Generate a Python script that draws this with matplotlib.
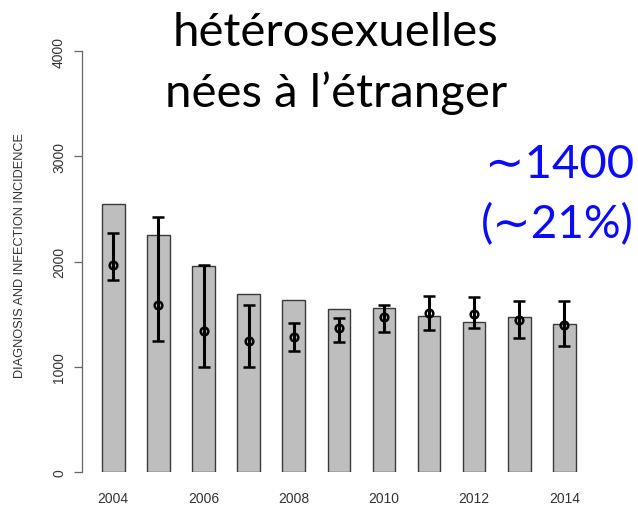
import numpy as np
import matplotlib
matplotlib.use('Agg')
import matplotlib.pyplot as plt

# values
years = [2004, 2005, 2006, 2007, 2008, 2009, 2010, 2011, 2012, 2013, 2014]
diagnoses = [2545, 2251, 1953, 1690, 1633, 1545, 1557, 1485, 1428, 1469, 1406]
incidence = [1969, 1586, 1336, 1241, 1285, 1367, 1475, 1507, 1504, 1441, 1396]
inc_low = [1826, 1247, 994, 994, 1152, 1232, 1327, 1349, 1367, 1273, 1194]
inc_high = [2267, 2419, 1963, 1589, 1415, 1466, 1586, 1668, 1659, 1627, 1627]
xlabels = [2004, 2006, 2008, 2010, 2012, 2014]
yticks = [0, 1000, 2000, 3000, 4000]

W, H = 638, 510
fig = plt.figure(figsize=(W / 100, H / 100), dpi=100)

# axes placed in pixel terms: y axis line at x=82, 0 at y=473, 4000 at y=52
ax = fig.add_axes([82 / W, (H - 473) / H, (600 - 82) / W, (473 - 52) / H])
ax.set_ylim(0, 4000)
ax.set_xlim(2003.306, 2014.79)

ax.bar(years, diagnoses, width=0.5, color='#bebebe', edgecolor='#3a3a3a', linewidth=1.0, zorder=1)

inc = np.array(incidence)
yerr = [inc - np.array(inc_low), np.array(inc_high) - inc]
ax.errorbar(years, incidence, yerr=yerr, fmt='o', mfc='none', mec='black', mew=1.8,
            ms=5.5, ecolor='black', elinewidth=2.2, capsize=4, capthick=2.2, zorder=3)

for s in ['top', 'right', 'bottom']:
    ax.spines[s].set_visible(False)
ax.spines['left'].set_color('#666666')
ax.spines['left'].set_linewidth(0.9)

ax.set_yticks(yticks)
ax.set_yticklabels([str(v) for v in yticks], rotation=90, va='center',
                   fontsize=10, color='#333333', family='Liberation Sans')
ax.tick_params(axis='y', length=5.5, width=0.9, color='#666666', pad=6)
ax.set_xticks(xlabels)
ax.set_xticklabels([str(v) for v in xlabels], fontsize=10, color='#333333', family='Liberation Sans')
ax.tick_params(axis='x', length=0, pad=14)

fig.text(20 / W, 1 - 256 / H, 'DIAGNOSIS AND INFECTION INCIDENCE', rotation=90,
         ha='center', va='center', fontsize=9.2, color='#333333', family='Liberation Sans')

fig.text(336 / W, 1 - 33 / H, 'hétérosexuelles', ha='center', va='center',
         fontsize=34, color='black', family=['Lato', 'DejaVu Sans'])
fig.text(336 / W, 1 - 93 / H, 'nées à l\u2019étranger', ha='center', va='center',
         fontsize=34, color='black', family=['Lato', 'DejaVu Sans'])

fig.text(634 / W, 1 - 165 / H, '\u223c1400', ha='right', va='center',
         fontsize=34, color='#0a0aff', family=['Lato', 'DejaVu Sans'])
fig.text(634 / W, 1 - 225 / H, '(\u223c21%)', ha='right', va='center',
         fontsize=33, color='#0a0aff', family=['Lato', 'DejaVu Sans'])

fig.savefig('out.png', dpi=100)
